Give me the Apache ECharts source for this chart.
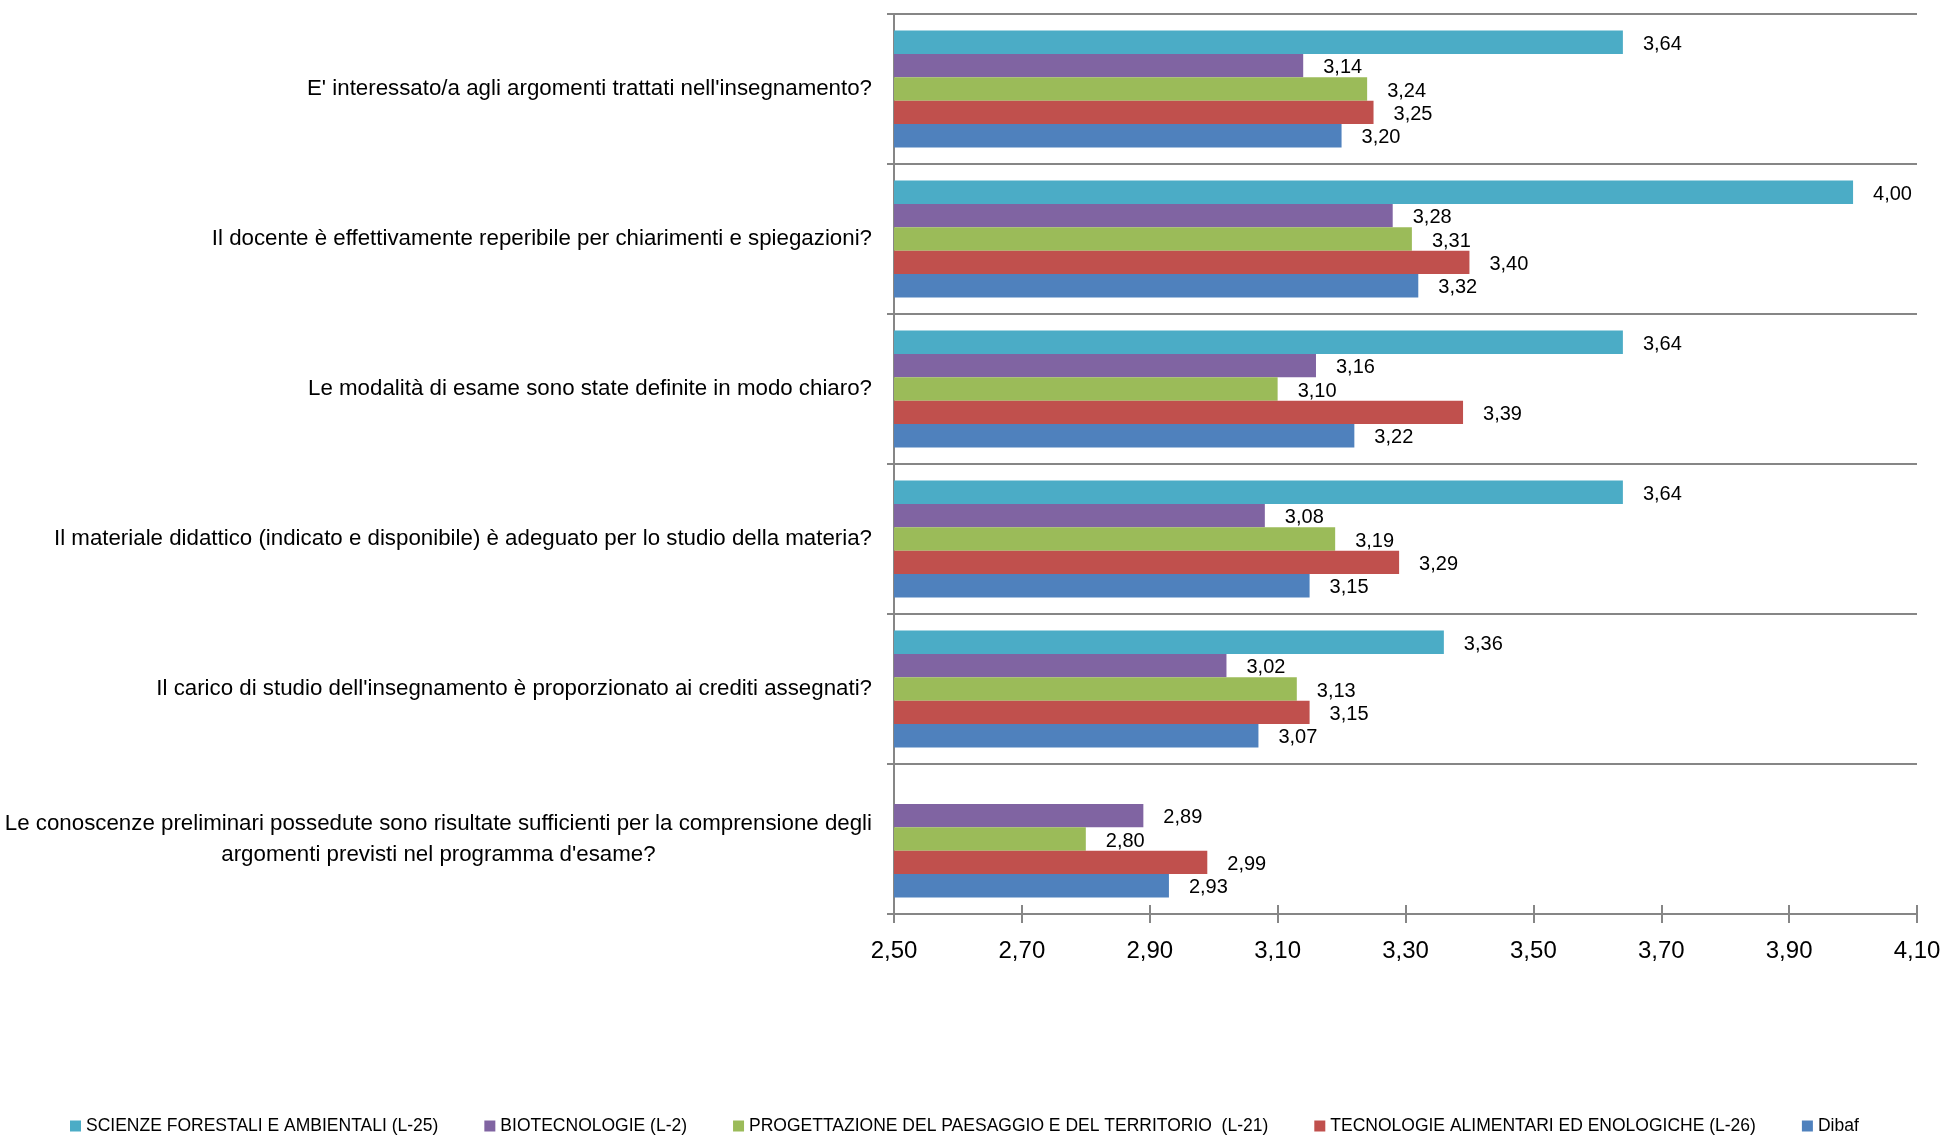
<!DOCTYPE html>
<html>
<head>
<meta charset="utf-8">
<style>
  html, body { margin: 0; padding: 0; background: #fff; }
  #chart { width: 1945px; height: 1137px; }
</style>
<script src="https://cdn.jsdelivr.net/npm/echarts@6/dist/echarts.min.js"></script>
</head>
<body>
<div id="chart"></div>
<script>
// domande (dall'alto in basso)
const categories = [
  "E' interessato/a agli argomenti trattati nell'insegnamento?",
  'Il docente è effettivamente reperibile per chiarimenti e spiegazioni?',
  'Le modalità di esame sono state definite in modo chiaro?',
  'Il materiale didattico (indicato e disponibile) è adeguato per lo studio della materia?',
  "Il carico di studio dell'insegnamento è proporzionato ai crediti assegnati?",
  "Le conoscenze preliminari possedute sono risultate sufficienti per la comprensione degli\nargomenti previsti nel programma d'esame?"
]
const seriesNames = [
  'SCIENZE FORESTALI E AMBIENTALI (L-25)',
  'BIOTECNOLOGIE (L-2)',
  'PROGETTAZIONE DEL PAESAGGIO E DEL TERRITORIO  (L-21)',
  'TECNOLOGIE ALIMENTARI ED ENOLOGICHE (L-26)',
  'Dibaf'
]
const scienzeForestali = [3.64, 4.00, 3.64, 3.64, 3.36, null]
const biotecnologie = [3.14, 3.28, 3.16, 3.08, 3.02, 2.89]
const paesaggio = [3.24, 3.31, 3.10, 3.19, 3.13, 2.80]
const tecnologieAlimentari = [3.25, 3.40, 3.39, 3.29, 3.15, 2.99]
const dibaf = [3.20, 3.32, 3.22, 3.15, 3.07, 2.93]
const colors = ['#4BACC6', '#8064A2', '#9BBB59', '#C0504D', '#4F81BD']

const FONT = 'Liberation Sans'
const fmt = v => v.toFixed(2).replace('.', ',')

let myChart = echarts.init(document.getElementById('chart'))

const seriesData = [scienzeForestali, biotecnologie, paesaggio, tecnologieAlimentari, dibaf].map((d, i) => ({
  name: seriesNames[i],
  type: 'bar',
  data: d,
  barGap: '0%',
  barCategoryGap: '22%',
  itemStyle: { color: colors[i] },
  label: {
    show: true,
    position: 'right',
    distance: 20,
    offset: [0, 2],
    color: '#000',
    fontFamily: FONT,
    fontSize: 20,
    formatter: p => fmt(p.value)
  }
}))

myChart.setOption({
  animation: false,
  color: colors,
  legend: {
    bottom: -3,
    left: 65,
    itemWidth: 11,
    itemHeight: 11,
    itemGap: 46,
    icon: 'rect',
    textStyle: { fontFamily: FONT, fontSize: 17.5, color: '#000' },
    data: seriesNames
  },
  grid: {
    left: 894,
    right: 28,
    top: 14,
    bottom: 223
  },
  xAxis: [
    {
      type: 'value',
      min: 2.5,
      max: 4.1,
      interval: 0.2,
      axisLine: { show: true, lineStyle: { color: '#868686', width: 2 } },
      axisTick: { show: true, length: 9, lineStyle: { color: '#868686', width: 2 } },
      axisLabel: {
        color: '#000',
        fontFamily: FONT,
        fontSize: 24,
        margin: 25,
        formatter: v => fmt(v)
      },
      splitLine: { show: false }
    },
    {
      type: 'value',
      position: 'bottom',
      min: 2.5,
      max: 4.1,
      interval: 0.2,
      axisLine: { show: false },
      axisTick: { show: true, inside: true, length: 9, lineStyle: { color: '#868686', width: 2 } },
      axisLabel: { show: false },
      splitLine: { show: false }
    }
  ],
  yAxis: {
    type: 'category',
    inverse: true,
    data: categories,
    axisLine: { show: true, lineStyle: { color: '#868686', width: 2 } },
    axisTick: { show: true, length: 7, lineStyle: { color: '#868686', width: 2 } },
    splitLine: { show: true, lineStyle: { color: '#868686', width: 2 } },
    axisLabel: {
      color: '#000',
      fontFamily: FONT,
      fontSize: 22.3,
      margin: 22,
      lineHeight: 31,
      formatter: v => v.indexOf('\n') < 0 ? v : v.split('\n').map(s => '{c|' + s + '}').join('\n'),
      rich: {
        c: { align: 'center', color: '#000', fontFamily: FONT, fontSize: 22.3, lineHeight: 31 }
      }
    }
  },
  series: seriesData
})
myChart.resize()
</script>
</body>
</html>
